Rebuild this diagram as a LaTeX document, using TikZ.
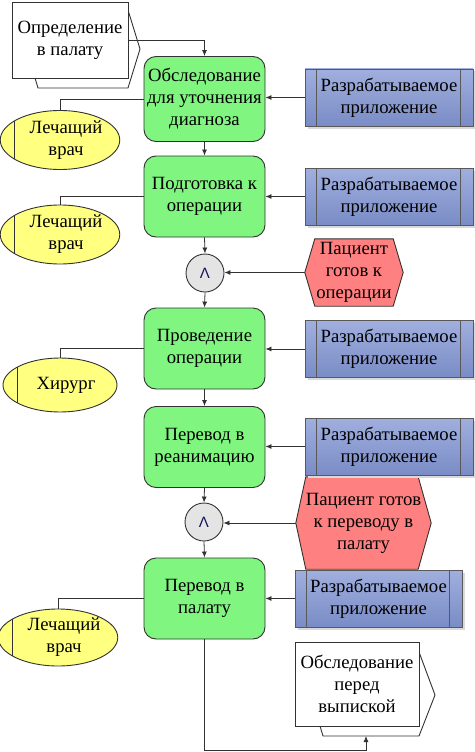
\documentclass[tikz,border=0pt]{standalone}
\usepackage{fontspec}
\setmainfont{Liberation Serif}
\newfontfamily\gatefont{Liberation Sans}
\usetikzlibrary{arrows.meta,shadows,backgrounds,calc,shapes.geometric}
\definecolor{fgreen}{RGB}{128,245,128}
\definecolor{appTop}{RGB}{160,175,222}
\definecolor{appBot}{RGB}{122,140,198}
\definecolor{orgY}{RGB}{255,255,128}
\definecolor{evRed}{RGB}{255,128,128}
\definecolor{gateG}{RGB}{228,228,228}
\definecolor{gateSym}{RGB}{20,20,90}
\definecolor{edgeC}{RGB}{50,50,50}
\begin{document}
\begin{tikzpicture}[x=1pt,y=-1pt,
  every node/.style={font=\rmfamily\fontsize{18.7}{22}\selectfont, align=center, inner sep=0pt},
  func/.style={rectangle, rounded corners=12pt, draw=edgeC, fill=fgreen, line width=0.9pt,
    minimum width=121pt, minimum height=81pt},
  appbox/.style={rectangle, draw=black!65, line width=0.9pt, top color=appTop, bottom color=appBot,
    minimum width=168pt, minimum height=57pt,
    drop shadow={shadow xshift=2.5pt, shadow yshift=-2.5pt, fill=black!15, opacity=1},
    path picture={\draw[black!65, line width=0.9pt]
      ([xshift=11pt]path picture bounding box.north west) -- ([xshift=11pt]path picture bounding box.south west)
      ([xshift=-13pt]path picture bounding box.north east) -- ([xshift=-13pt]path picture bounding box.south east);}},
  org/.style={ellipse, draw=edgeC, fill=orgY, line width=0.9pt, minimum width=114pt, minimum height=59pt,
    path picture={\draw[edgeC, line width=0.9pt]
      ([xshift=14pt]path picture bounding box.north west) -- ([xshift=14pt]path picture bounding box.south west);}},
  gate/.style={circle, draw=edgeC, fill=gateG, line width=0.9pt, minimum size=38pt,
    font=\gatefont\fontsize{15}{15}\selectfont, text=gateSym},
  evtext/.style={rectangle},
  hexa/.style={draw=edgeC, fill=evRed, line width=0.9pt},
  pibox/.style={rectangle, draw=edgeC, fill=white, line width=0.9pt},
  piback/.style={draw=edgeC, fill=white, line width=0.9pt},
  conn/.style={draw=edgeC, line width=0.8pt},
  arr/.style={conn, -{Latex[length=6pt,width=5pt]}}
]
\useasboundingbox (0,0) rectangle (474,752);

% process interface 1
\draw[piback] (38,10) -- (128,10) -- (140,49) -- (128,88) -- (38,88) -- (35,78) -- cycle;
\node[pibox, minimum width=116pt, minimum height=76pt] (pi1) at (70,40) {Определение\\в палату};

% functions
\node[func, minimum height=85pt] (f1) at (204.5,99) {Обследование\\для уточнения\\диагноза};
\node[func] (f2) at (204.5,196.5) {Подготовка к\\операции};
\node[func] (f3) at (204.5,348.5) {Проведение\\операции};
\node[func] (f4) at (204.5,447) {Перевод в\\реанимацию};
\node[func] (f5) at (204.5,598.5) {Перевод в\\палату};

% applications
\node[appbox] (b1) at (389,97.5) {Разрабатываемое\\приложение};
\node[appbox] (b2) at (389,196.5) {Разрабатываемое\\приложение};
\node[appbox] (b3) at (389,349) {Разрабатываемое\\приложение};
\node[appbox] (b4) at (389,446.5) {Разрабатываемое\\приложение};
\node[appbox, minimum width=167pt] (b5) at (378.5,598.5) {Разрабатываемое\\приложение};

% org units
\node[org] (o1) at (60,140) {\hspace*{12pt}Лечащий\\\hspace*{12pt}врач};
\node[org] (o2) at (60,234.5) {\hspace*{12pt}Лечащий\\\hspace*{12pt}врач};
\node[org, minimum height=54pt] (o3) at (60,385) {\hspace*{12pt}Хирург};
\node[org, minimum height=57pt] (o4) at (58,637.5) {\hspace*{12pt}Лечащий\\\hspace*{12pt}врач};

% gates
\node[gate] (g1) at (205,273) {Λ};
\node[gate] (g2) at (204,522) {Λ};

% events
\node[evtext, minimum width=98pt, minimum height=67pt] (e1) at (354,272.5) {Пациент\\готов к\\операции};
\node[evtext, minimum width=135pt, minimum height=92pt] (e2) at (363.5,523) {Пациент готов\\к переводу в\\палату};
\begin{scope}[on background layer]
\draw[hexa] (e1.west) -- ([xshift=10pt]e1.north west) -- ([xshift=-10pt]e1.north east) -- (e1.east)
  -- ([xshift=-10pt]e1.south east) -- ([xshift=10pt]e1.south west) -- cycle;
\draw[hexa] (e2.west) -- ([xshift=10pt]e2.north west) -- ([xshift=-13pt]e2.north east) -- (e2.east)
  -- ([xshift=-13pt]e2.south east) -- ([xshift=10pt]e2.south west) -- cycle;
\end{scope}

% process interface 2
\draw[piback] (323,652) -- (419,652) -- (435,695) -- (419,736) -- (323,736) -- (320,726) -- cycle;
\node[pibox, minimum width=124pt, minimum height=84pt] (pi2) at (357,684) {Обследование\\перед\\выпиской};
\coordinate (pi2in) at (366,736);

% control flow
\draw[arr] (pi1.east) -| (f1.north);
\draw[arr] (f1.south) -- (f2.north);
\draw[arr] (f2.south) -- (g1.north);
\draw[arr] (g1.south) -- (f3.north);
\draw[arr] (f3.south) -- (f4.north);
\draw[arr] (f4.south) -- (g2.north);
\draw[arr] (g2.south) -- (f5.north);
\draw[arr] (e1.west) -- (e1.west -| g1.east);
\draw[arr] (e2.west) -- (e2.west -| g2.east);
\draw[arr] (f5.south) -- ++(0,111) -| (pi2in);

% applications to functions
\foreach \b/\f in {b1/f1,b2/f2,b3/f3,b4/f4,b5/f5}
  \draw[arr] (\b.west) -- (\b.west -| \f.east);

% org units
\foreach \f/\o in {f1/o1,f2/o2,f3/o3,f5/o4}
  \draw[conn] (\f.west) -| (\o.north);
\end{tikzpicture}
\end{document}
